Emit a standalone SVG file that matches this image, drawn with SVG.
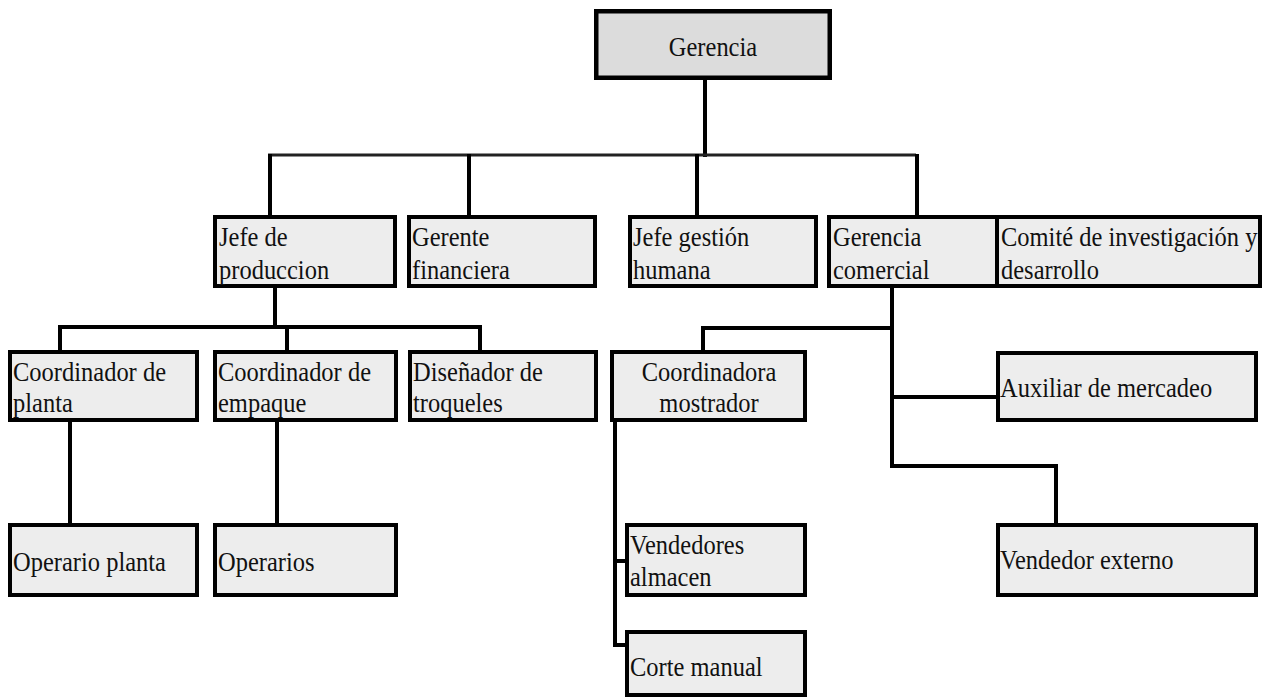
<svg xmlns="http://www.w3.org/2000/svg" width="1271" height="698" viewBox="0 0 1271 698">
<style>
.box{fill:#ededed;stroke:#000;stroke-width:4}
.top{fill:#dcdcdc;stroke:#000;stroke-width:4.5}
.t{font-family:"Liberation Serif","Times New Roman",serif;font-size:24.5px;fill:#111;transform-box:fill-box;transform-origin:center;transform:scaleY(1.12)}
.c{stroke:#000;stroke-width:4;fill:none;stroke-linecap:square}
</style>
<rect width="1271" height="698" fill="#fff"/>
<g id="connectors">
<path class="c" d="M705 80V155"/>
<path d="M268 155H916" stroke="#222" stroke-width="3"/>
<path class="c" d="M270 156V214M469 156V214M697 156V214M917 156V214"/>
<path class="c" d="M275 289V327M60 327H480M60 327V349M287 327V349M480 327V349"/>
<path class="c" d="M70 423V522M277 423V522"/>
<path class="c" d="M892 289V466M703 328H892M703 328V349M892 397H995M892 466H1056V522"/>
<path class="c" d="M615 423V645H625M615 561H625"/>
</g>
<g id="gerencia"><rect class="top" x="596.25" y="11.25" width="233.5" height="66.5"/><text class="t" x="713" y="55" text-anchor="middle">Gerencia</text></g>
<g id="jefe-produccion"><rect class="box" x="215" y="217" width="180" height="69"/><text class="t" x="219" y="245">Jefe de</text><text class="t" x="219" y="278">produccion</text></g>
<g id="gerente-financiera"><rect class="box" x="409" y="217" width="186" height="69"/><text class="t" x="412" y="245">Gerente</text><text class="t" x="412" y="278">financiera</text></g>
<g id="jefe-gestion"><rect class="box" x="630" y="217" width="186" height="69"/><text class="t" x="633" y="245">Jefe gestión</text><text class="t" x="633" y="278">humana</text></g>
<g id="gerencia-comercial"><rect class="box" x="829" y="217" width="168" height="69"/><text class="t" x="833" y="245">Gerencia</text><text class="t" x="833" y="278">comercial</text></g>
<g id="comite"><rect class="box" x="997" y="217" width="263" height="69"/><text class="t" x="1001" y="245">Comité de investigación y</text><text class="t" x="1001" y="278">desarrollo</text></g>
<g id="coord-planta"><rect class="box" x="10" y="352" width="187" height="68"/><text class="t" x="13" y="380">Coordinador de</text><text class="t" x="13" y="411">planta</text></g>
<g id="coord-empaque"><rect class="box" x="215" y="352" width="181" height="68"/><text class="t" x="218" y="380">Coordinador de</text><text class="t" x="218" y="411">empaque</text></g>
<g id="disenador"><rect class="box" x="410" y="352" width="186" height="68"/><text class="t" x="413" y="380">Diseñador de</text><text class="t" x="413" y="411">troqueles</text></g>
<g id="coordinadora-mostrador"><rect class="box" x="612" y="352" width="193" height="68"/><text class="t" x="709" y="380" text-anchor="middle">Coordinadora</text><text class="t" x="709" y="411" text-anchor="middle">mostrador</text></g>
<g id="auxiliar"><rect class="box" x="998" y="353" width="258" height="67"/><text class="t" x="1000" y="396">Auxiliar de mercadeo</text></g>
<g id="operario-planta"><rect class="box" x="10" y="525" width="187" height="70"/><text class="t" x="13" y="570">Operario planta</text></g>
<g id="operarios"><rect class="box" x="215" y="525" width="181" height="70"/><text class="t" x="218" y="570">Operarios</text></g>
<g id="vendedores-almacen"><rect class="box" x="627" y="525" width="178" height="70"/><text class="t" x="630" y="553">Vendedores</text><text class="t" x="630" y="585">almacen</text></g>
<g id="vendedor-externo"><rect class="box" x="998" y="525" width="258" height="70"/><text class="t" x="1000" y="568">Vendedor externo</text></g>
<g id="corte-manual"><rect class="box" x="627" y="632" width="178" height="63"/><text class="t" x="630" y="675">Corte manual</text></g>
</svg>
